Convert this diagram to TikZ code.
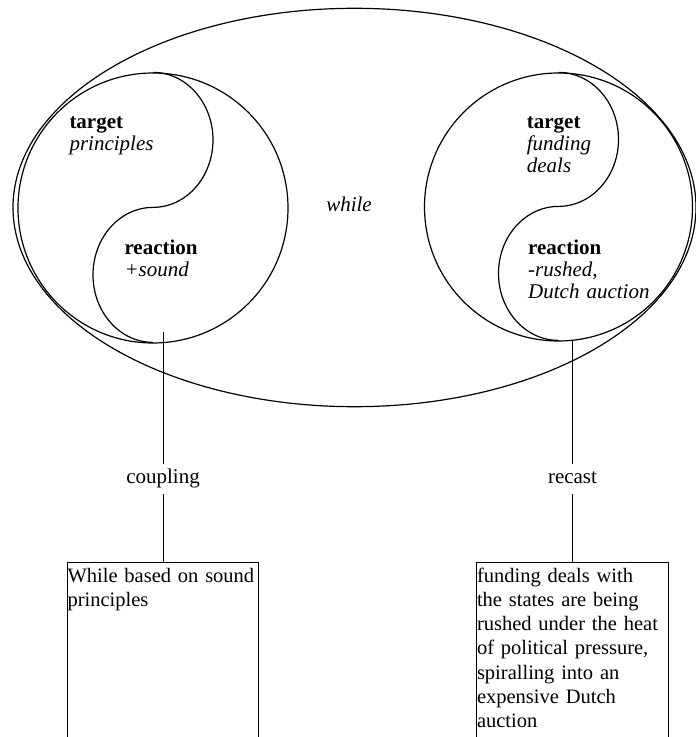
\documentclass[tikz,border=0pt]{standalone}
\usepackage{fontspec}
\setmainfont{Liberation Serif}
\usetikzlibrary{positioning}
\tikzset{
	yinyang/.style={draw=black, line width=1.2pt},
	half/.style={circle, draw=black, line width=1.2pt, inner sep=0pt},
	link/.style={draw=black, line width=0.8pt},
	linklabel/.style={anchor=base, inner xsep=2pt, inner ysep=5pt,
		text height=15pt, text depth=5pt, font=\fontsize{21}{24}\selectfont},
	tag/.style={anchor=base west, inner sep=0pt, text width=150pt,
		align=left, font=\fontsize{21}{22}\selectfont},
	textbox/.style={draw=black, line width=0.8pt, anchor=north, inner xsep=0.3pt,
		inner ysep=1pt, text width=191pt, align=left, text height=19pt,
		text depth=200pt, font=\fontsize{20.5}{24.2}\selectfont},
}

\begin{document}
\begin{tikzpicture}[x=1pt, y=1pt]
	\useasboundingbox (0,0) rectangle (696,737);
	\clip (0,0) rectangle (696,737);
	% outer ellipse
	\draw[yinyang] (354.5,529.5) ellipse [x radius=341.5, y radius=199.2];
	\node at (349,525.3) [anchor=base, font=\fontsize{21}{22}\selectfont\itshape] (while) {while};
	% left yin-yang
	\node[half, minimum size=270pt] (lcirc) at (153,529) {};
	\draw[yinyang] (lcirc.north) arc[start angle=90, end angle=-90, x radius=60, y radius=67.5]
		arc[start angle=90, end angle=270, x radius=60, y radius=67.5];
	\node[tag] (ltarget) at (69.3,608.7) {\textbf{target}\\\textit{principles}};
	\node[tag] (lreact) at (124.3,482.7) {\textbf{reaction}\\\textit{+sound}};
	% right yin-yang
	\node[half, minimum size=268pt] (rcirc) at (558.5,530) {};
	\draw[yinyang] (rcirc.north) arc[start angle=90, end angle=-90, x radius=60, y radius=67]
		arc[start angle=90, end angle=270, x radius=60, y radius=67];
	\node[tag] (rtarget) at (526.7,608.7) {\textbf{target}\\\textit{funding}\\\textit{deals}};
	\node[tag] (rreact) at (528,482.7) {\textbf{reaction}\\\textit{-rushed,}\\\textit{Dutch auction}};
	% connectors down to the text boxes
	\coordinate (lfoot) at (163,405);
	\coordinate (rfoot) at (572.5,397);
	\node[linklabel] (coupling) at (163,253) {coupling};
	\node[linklabel] (recast) at (572.5,253) {recast};
	\node[textbox] (lbox) at (163,175) {While based on sound\\principles};
	\node[textbox] (rbox) at (572.5,175) {funding deals with\\the states are being\\rushed under the heat\\of political pressure,\\spiralling into an\\expensive Dutch\\auction};
	\draw[link] (lfoot) -- (coupling.north);
	\draw[link] (coupling.south) -- (lbox.north);
	\draw[link] (rfoot) -- (recast.north);
	\draw[link] (recast.south) -- (rbox.north);
\end{tikzpicture}
\end{document}
